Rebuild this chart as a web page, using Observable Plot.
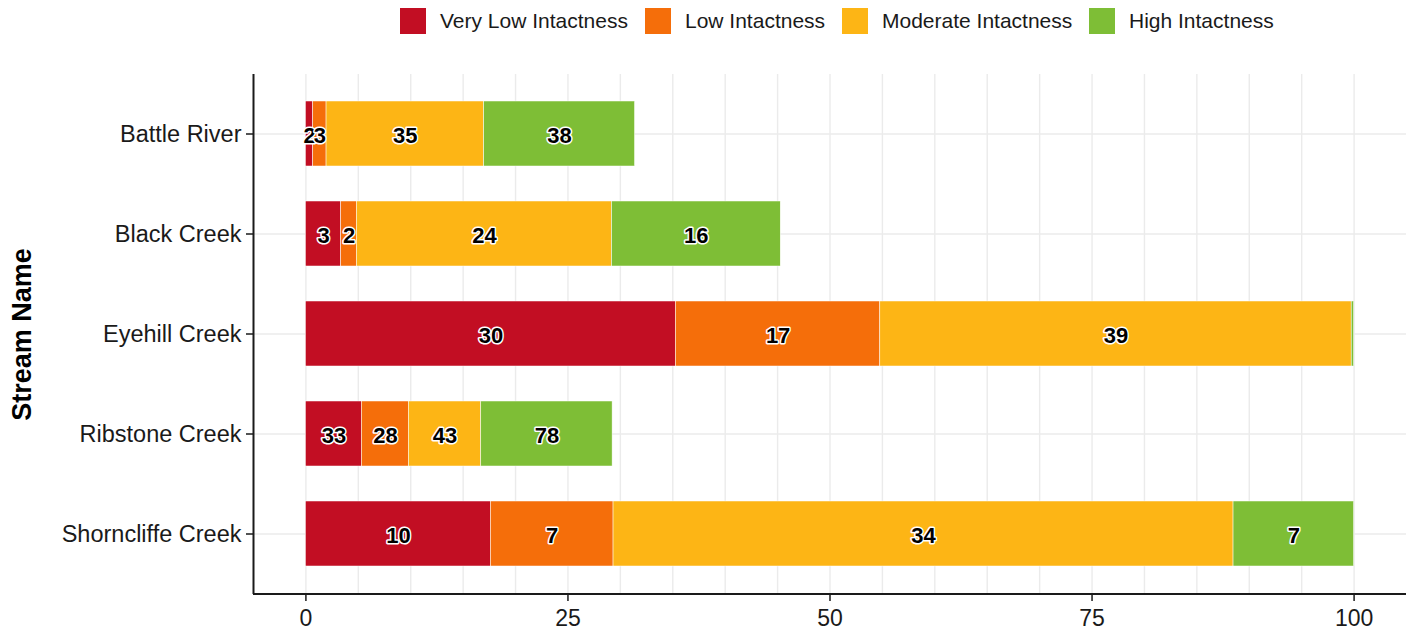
<!DOCTYPE html>
<html>
<head>
<meta charset="utf-8">
<script src="https://cdn.jsdelivr.net/npm/d3@7"></script>
<script src="https://cdn.jsdelivr.net/npm/@observablehq/plot@0.6"></script>
<style>
  html, body { margin: 0; padding: 0; background: white; }
  body { width: 1414px; height: 635px; overflow: hidden; font-family: "Liberation Sans", Arial, sans-serif; }
  #legend { position: relative; height: 45px; }
  .item { position: absolute; top: 8px; display: flex; align-items: center; height: 26px; }
  .sw { width: 26px; height: 26px; margin-right: 14px; }
  .lab { font-size: 21px; color: #1a1a1a; white-space: nowrap; }
</style>
</head>
<body>
<div id="legend"></div>
<div id="chart"></div>
<script>
// Categories (top to bottom)
const streams = ["Battle River", "Black Creek", "Eyehill Creek", "Ribstone Creek", "Shorncliffe Creek"];
const levels = ["Very Low Intactness", "Low Intactness", "Moderate Intactness", "High Intactness"];
const colors = ["#C20E23", "#F56E0A", "#FDB515", "#7EBE36"];

// Segment lengths (x-axis units), per level, in stream order
const veryLow  = [0.70, 3.37, 35.3, 5.34, 17.65];
const low      = [1.27, 1.50, 19.5, 4.49, 11.70];
const moderate = [15.03, 24.33, 44.97, 6.90, 59.15];
const high     = [14.40, 16.10, 0.23, 12.53, 11.50];

// Count labels shown on the segments
const veryLowLabels  = [2, 3, 30, 33, 10];
const lowLabels      = [3, 2, 17, 28, 7];
const moderateLabels = [35, 24, 39, 43, 34];
const highLabels     = [38, 16, null, 78, 7];

const xTicks = [0, 25, 50, 75, 100];

const series = [veryLow, low, moderate, high];
const seriesLabels = [veryLowLabels, lowLabels, moderateLabels, highLabels];
const rows = [];
streams.forEach((s, i) => {
  levels.forEach((lv, j) => {
    rows.push({stream: s, level: lv, value: series[j][i], label: seriesLabels[j][i]});
  });
});

// Legend
const legend = document.getElementById("legend");
const legendLeft = [400, 645, 842, 1089];
levels.forEach((lv, j) => {
  const it = document.createElement("div");
  it.className = "item";
  it.style.left = legendLeft[j] + "px";
  it.innerHTML = `<div class="sw" style="background:${colors[j]}"></div><div class="lab">${lv}</div>`;
  legend.appendChild(it);
});

const W = 1414, H = 590, mL = 253, mR = 8, mT = 29, mB = 41;
const grid = {stroke: "#EBEBEB", strokeOpacity: 1, strokeWidth: 1.4};

const chart = Plot.plot({
  width: W, height: H,
  marginLeft: mL, marginRight: mR, marginTop: mT, marginBottom: mB,
  style: {fontFamily: "'Liberation Sans', Arial, sans-serif", fontSize: "23px", color: "#1a1a1a", background: "white", overflow: "visible"},
  x: {domain: [-5, 105], label: null},
  y: {domain: streams, paddingInner: 0.35, paddingOuter: 0.275, label: null},
  color: {domain: levels, range: colors},
  marks: [
    Plot.gridX({ticks: d3.range(0, 101, 5), ...grid}),
    Plot.gridY({...grid}),
    Plot.barX(rows, {x: "value", y: "stream", fill: "level", stroke: "white", strokeWidth: 0.5}),
    Plot.text(rows, Plot.stackX({x: "value", y: "stream", z: "level", text: "label",
      filter: d => d.label != null, dy: 2,
      fontSize: 22, fontWeight: "bold", fill: "black", stroke: "white", strokeWidth: 3})),
    Plot.axisX({ticks: xTicks, tickSize: 7, tickPadding: 8, fontSize: 23, label: null, stroke: "#1a1a1a", strokeWidth: 1.5}),
    Plot.axisY({tickSize: 7, tickPadding: 5, fontSize: 23.5, label: null, stroke: "#1a1a1a", strokeWidth: 1.5}),
    Plot.ruleX([-5], {stroke: "#1a1a1a", strokeWidth: 2}),
    Plot.text(["Stream Name"], {frameAnchor: "left", text: d => d, rotate: -90, dx: -231,
      textAnchor: "middle", fontSize: 27, fontWeight: "bold", fill: "black"})
  ]
});

// bottom axis line
const xs = chart.scale("x");
const ns = "http://www.w3.org/2000/svg";
const line = document.createElementNS(ns, "line");
line.setAttribute("x1", xs.apply(-5));
line.setAttribute("x2", xs.apply(105));
line.setAttribute("y1", H - mB);
line.setAttribute("y2", H - mB);
line.setAttribute("stroke", "#1a1a1a");
line.setAttribute("stroke-width", 2);
chart.appendChild(line);

document.getElementById("chart").appendChild(chart);
</script>
</body>
</html>
